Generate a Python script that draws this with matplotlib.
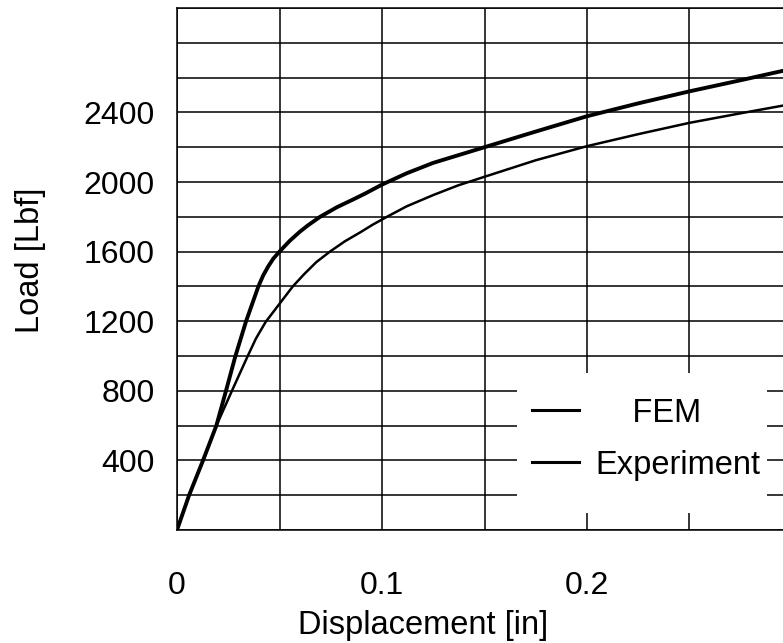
import matplotlib.pyplot as plt
from matplotlib.patches import Rectangle
import numpy as np

plt.rcParams['font.family'] = ['Liberation Sans', 'DejaVu Sans']

# Load-displacement curves
exp_disp = [0, 0.0059, 0.0127, 0.0192, 0.0239, 0.0285, 0.0337, 0.0397, 0.042, 0.0445,
            0.047, 0.050, 0.055, 0.060, 0.064, 0.0698, 0.078, 0.086, 0.092, 0.100,
            0.112, 0.125, 0.150, 0.175, 0.200, 0.225, 0.250, 0.275, 0.296]
exp_load = [0, 200, 400, 600, 800, 1000, 1200, 1400, 1462, 1515,
            1560, 1600, 1662, 1715, 1752, 1800, 1855, 1900, 1935, 1985,
            2050, 2110, 2200, 2290, 2378, 2452, 2521, 2585, 2640]

fem_disp = [0, 0.0059, 0.0127, 0.0192, 0.0268, 0.0345, 0.0385, 0.0432, 0.050, 0.0565,
            0.062, 0.068, 0.0746, 0.082, 0.0893, 0.0955, 0.1024, 0.112, 0.125, 0.137,
            0.150, 0.175, 0.200, 0.225, 0.250, 0.275, 0.296]
fem_load = [0, 200, 400, 600, 800, 1000, 1100, 1195, 1300, 1400,
            1470, 1540, 1600, 1660, 1710, 1755, 1800, 1860, 1925, 1980,
            2030, 2125, 2206, 2275, 2340, 2395, 2440]

x_ticks = np.arange(0, 0.301, 0.05)
x_labels = ['0', '', '0.1', '', '0.2', '', '']
y_ticks = np.arange(0, 3001, 200)
y_labels = ['', '', '400', '', '800', '', '1200', '', '1600', '', '2000', '',
            '2400', '', '', '']

fig = plt.figure(figsize=(7.83, 6.43), dpi=100)
ax = fig.add_axes([177 / 783, 113 / 643, 615 / 783, 522 / 643])

ax.plot(fem_disp, fem_load, color='black', lw=1.8, label='FEM', zorder=4)
ax.plot(exp_disp, exp_load, color='black', lw=2.8, label='Experiment', zorder=4)

ax.set_xlim(0, 0.3)
ax.set_ylim(0, 3000)
ax.set_xticks(x_ticks)
ax.set_xticklabels(x_labels)
ax.set_yticks(y_ticks)
ax.set_yticklabels(y_labels)
ax.tick_params(length=0, labelsize=23)
ax.tick_params(axis='x', pad=29.5)
ax.tick_params(axis='y', pad=16)
ax.grid(True, color='black', lw=1.1)
ax.set_axisbelow(True)
for s in ax.spines.values():
    s.set_linewidth(1.1)
ax.spines['right'].set_visible(False)

ax.set_xlabel('Displacement [in]', fontsize=23.5)
ax.xaxis.set_label_coords(0.40, -0.182)
ax.xaxis.label.set_va('center')
ax.set_ylabel('Load [Lbf]', fontsize=23.5)
ax.yaxis.set_label_coords(-0.239, 0.517)
ax.yaxis.label.set_va('center')

# white patch behind the legend
ax.add_patch(Rectangle((0.553, 0.033), 0.406, 0.268, transform=ax.transAxes,
                       facecolor='white', edgecolor='none', zorder=2))
ax.legend(['    FEM', 'Experiment'], loc='center', bbox_to_anchor=(0.763, 0.174),
          frameon=False, fontsize=23.5, handlelength=1.45, handletextpad=0.5,
          labelspacing=0.65)
for line in ax.get_legend().get_lines():
    line.set_linewidth(2.2)

fig.savefig('out.png', dpi=100)
